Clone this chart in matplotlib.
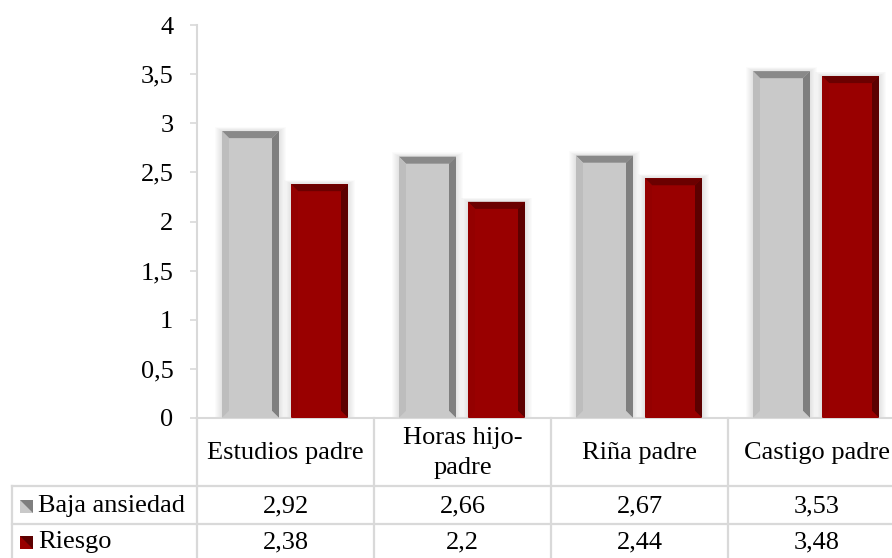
#!/usr/bin/env python3
# -*- coding: utf-8 -*-
"""
Bar chart with an attached data table (Excel style bevelled bars).
Saves out.png
"""
import matplotlib
matplotlib.use("Agg")
import matplotlib.pyplot as plt
from matplotlib.patches import Polygon

categories = ["Estudios padre", "Horas hijo-\npadre", "Riña padre", "Castigo padre"]
series_names = ["Baja ansiedad", "Riesgo"]
baja = [2.92, 2.66, 2.67, 3.53]
riesgo = [2.38, 2.2, 2.44, 3.48]
table_baja = ["2,92", "2,66", "2,67", "3,53"]
table_riesgo = ["2,38", "2,2", "2,44", "3,48"]
yticks = [0, 0.5, 1, 1.5, 2, 2.5, 3, 3.5, 4]
ytick_labels = ["0", "0,5", "1", "1,5", "2", "2,5", "3", "3,5", "4"]

# colours: face, top bevel, right bevel, left bevel, bottom bevel
GREY = ("#c9c9c9", "#898989", "#7f7f7f", "#bdbdbd", "#c9c9c9")
RED = ("#990000", "#6b0000", "#5c0000", "#940000", "#990000")
LINE = "#d9d9d9"
FONT = "Liberation Serif"
FS = 19

W, H = 892, 558
AX_LEFT, AX_TOP, AX_BOTTOM = 197, 25, 418
COL_W = 177
BEVEL = 7  # px

plt.rcParams["font.family"] = [FONT, "DejaVu Serif"]

fig = plt.figure(figsize=(W / 100, H / 100), dpi=100)
ax = fig.add_axes([AX_LEFT / W, 1 - AX_BOTTOM / H,
                   len(categories) * COL_W / W, (AX_BOTTOM - AX_TOP) / H])
ax.set_xlim(0, len(categories))
ax.set_ylim(0, 4)

px_x = 1.0 / COL_W
px_y = 4.0 / (AX_BOTTOM - AX_TOP)
bx, by = BEVEL * px_x, BEVEL * px_y


def bevel_bar(x0, width, h, cols):
    face, top, right, left, bottom = cols
    x1 = x0 + width
    # soft shadow around the bar
    for k in range(1, 8):
        ax.add_patch(plt.Rectangle((x0 - k * px_x, 0), width + 2 * k * px_x,
                                   h + 0.6 * k * px_y, color="black",
                                   alpha=0.014, lw=0, zorder=1))
    ax.bar(x0, h, width=width, align="edge", color=face, lw=0, zorder=2)
    polys = [
        ([(x0, h), (x1, h), (x1 - bx, h - by), (x0 + bx, h - by)], top),
        ([(x1, h), (x1, 0), (x1 - bx, by), (x1 - bx, h - by)], right),
        ([(x0, h), (x0 + bx, h - by), (x0 + bx, by), (x0, 0)], left),
        ([(x0, 0), (x1, 0), (x1 - bx, by), (x0 + bx, by)], bottom),
    ]
    for pts, c in polys:
        ax.add_patch(Polygon(pts, closed=True, color=c, lw=0, zorder=3))


bar_w = 57 / COL_W
off_a = 25 / COL_W
off_b = 94 / COL_W
for i in range(len(categories)):
    bevel_bar(i + off_a, bar_w, baja[i], GREY)
    bevel_bar(i + off_b, bar_w, riesgo[i], RED)

ax.set_yticks(yticks)
ax.set_yticklabels(ytick_labels, fontsize=FS, family=FONT)
ax.set_xticks([])
ax.tick_params(axis="y", length=5, width=1.2, color=LINE, pad=12)
for s in ("top", "right"):
    ax.spines[s].set_visible(False)
for s in ("left", "bottom"):
    ax.spines[s].set_color(LINE)
    ax.spines[s].set_linewidth(1.5)

# data table below the plot, drawn in pixel coordinates
tab = fig.add_axes([0, 0, 1, 1], facecolor="none")
tab.set_xlim(0, W)
tab.set_ylim(H, 0)
tab.axis("off")

ROW1, ROW2, ROW3 = 486, 524, 562
TAB_LEFT = 12
right_edge = AX_LEFT + len(categories) * COL_W
lkw = dict(color=LINE, lw=1.6, zorder=1)
tab.plot([TAB_LEFT, right_edge], [ROW1, ROW1], **lkw)
tab.plot([TAB_LEFT, right_edge], [ROW2, ROW2], **lkw)
tab.plot([TAB_LEFT, TAB_LEFT], [ROW1, ROW3], **lkw)
for i in range(len(categories) + 1):
    x = AX_LEFT + i * COL_W
    tab.plot([x, x], [AX_BOTTOM, ROW3], **lkw)

for i, name in enumerate(categories):
    cx = AX_LEFT + (i + 0.5) * COL_W
    tab.text(cx, (AX_BOTTOM + ROW1) / 2 + 1, name, ha="center", va="center",
             fontsize=FS, linespacing=1.45)
    tab.text(cx, (ROW1 + ROW2) / 2 + 1, table_baja[i], ha="center",
             va="center", fontsize=FS)
    tab.text(cx, (ROW2 + ROW3) / 2 - 1, table_riesgo[i], ha="center",
             va="center", fontsize=FS)

# legend keys inside the table
for (y0, y1), name, cols in (((ROW1, ROW2), series_names[0], GREY),
                             ((ROW2, ROW3 - 4), series_names[1], RED)):
    cy = (y0 + y1) / 2 + 1
    s = 13
    kx, ky = 20, cy - s / 2
    tab.add_patch(plt.Rectangle((kx, ky), s, s, color=cols[0], lw=0))
    tab.add_patch(Polygon([(kx, ky), (kx + s, ky), (kx + s, ky + s)],
                          closed=True, color=cols[2], lw=0))
    tab.text(38, cy, name, ha="left", va="center", fontsize=FS)

fig.savefig("out.png", dpi=100)
